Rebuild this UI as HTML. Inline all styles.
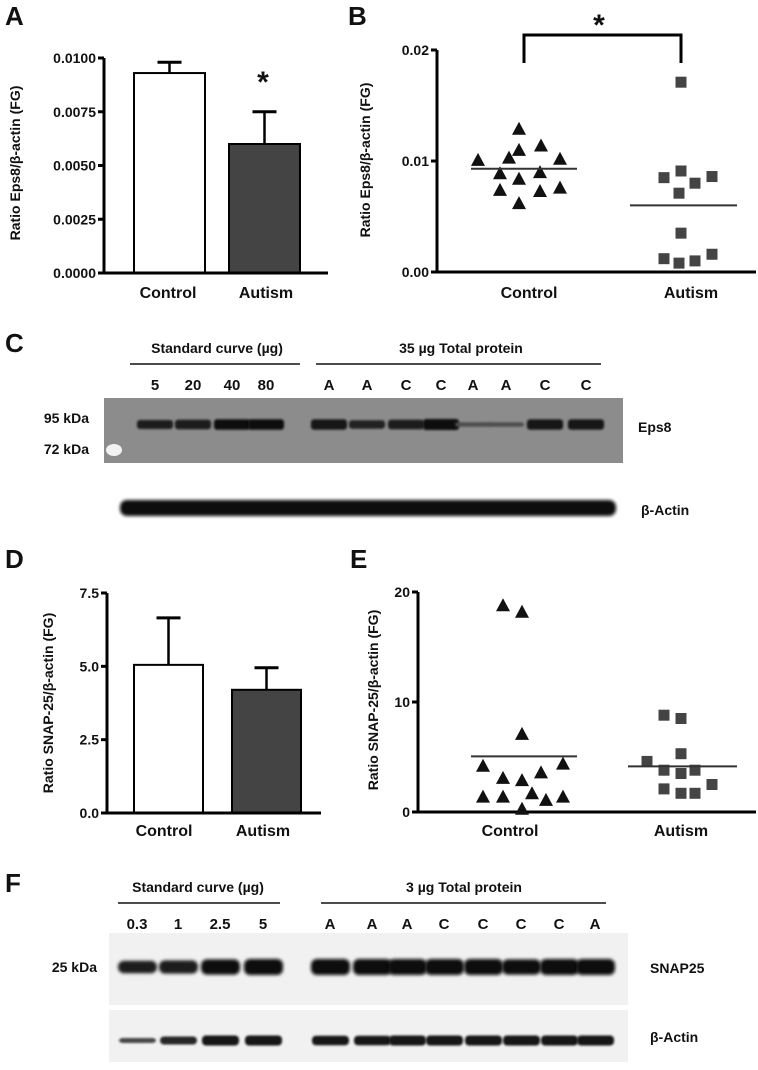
<!DOCTYPE html>
<html><head><meta charset="utf-8"><style>
html,body{margin:0;padding:0;background:#fff}
svg{display:block}
text{font-family:"Liberation Sans",Arial,sans-serif;font-weight:bold;fill:#111}
</style></head><body>
<svg id="fig" width="758" height="1070" viewBox="0 0 758 1070" xmlns="http://www.w3.org/2000/svg">
<defs>
<filter id="blur1" x="-20%" y="-100%" width="140%" height="300%"><feGaussianBlur stdDeviation="1.6"/></filter>
<filter id="blur2" x="-20%" y="-100%" width="140%" height="300%"><feGaussianBlur stdDeviation="1"/></filter>
</defs>
<g id="pA"></g>
<g id="pB"></g>
<g id="pC"></g>
<g id="pD"></g>
<g id="pE"></g>
<g id="pF"></g>
</svg>
<script>
// ---- data ----
const barCategories = ["Control", "Autism"];
const aMeans = [0.0093, 0.0060];
const aErrTop = [0.0098, 0.0075];
const aTicks = ["0.0000", "0.0025", "0.0050", "0.0075", "0.0100"];
const aTickVals = [0, 0.0025, 0.005, 0.0075, 0.01];

const bControl = [0.0129, 0.0114, 0.0110, 0.0101, 0.0103, 0.0102, 0.0089, 0.0090, 0.0084, 0.0076, 0.0074, 0.0073, 0.0062];
const bAutism = [0.0171, 0.0085, 0.0091, 0.0086, 0.0080, 0.0071, 0.0035, 0.0012, 0.0008, 0.0010, 0.0016];
const bMeans = [0.0093, 0.0060];
const bTicks = ["0.00", "0.01", "0.02"];
const bTickVals = [0, 0.01, 0.02];

const dMeans = [5.05, 4.2];
const dErrTop = [6.65, 4.95];
const dTicks = ["0.0", "2.5", "5.0", "7.5"];
const dTickVals = [0, 2.5, 5, 7.5];

const eControl = [18.8, 18.2, 7.1, 4.2, 4.4, 3.1, 2.9, 3.6, 1.4, 1.4, 1.7, 1.1, 1.4, 0.3];
const eAutism = [8.8, 8.5, 5.3, 4.6, 3.8, 3.5, 3.8, 2.1, 1.7, 1.7, 2.5];
const eMeans = [5.06, 4.15];
const eTicks = ["0", "10", "20"];
const eTickVals = [0, 10, 20];

const cLanes = ["5", "20", "40", "80", "A", "A", "C", "C", "A", "A", "C", "C"];
const cEps8 = [0.75, 0.8, 0.95, 0.95, 0.9, 0.7, 0.8, 1, 0.2, 0.2, 0.9, 0.9];
const fLanes = ["0.3", "1", "2.5", "5", "A", "A", "A", "C", "C", "C", "C", "A"];
const fSnap = [0.75, 0.8, 0.95, 1, 1, 1, 1, 1, 1, 0.95, 1, 1];
const fActin = [0.4, 0.7, 0.9, 0.9, 0.85, 0.85, 0.9, 0.9, 0.9, 0.9, 0.9, 0.9];

// jitter offsets (px) used for point spread in dot plots
const bCtrlJit = [0, 22, 0, -41, -10, 41, -19, 21, 0, 41, -19, 21, 0];
const bAutJit = [0, -17, 0, 31, 14, -2, 0, -17, -2, 14, 31];
const eCtrlJit = [-19, 0, 0, -39, 41, -19, 0, 19, -39, -19, 10, 24, 41, 0];
const eAutJit = [-17, 0, 0, -34, -17, 0, 14, -17, 0, 14, 31];

const NS = "http://www.w3.org/2000/svg";
function mk(parent, tag, attrs, txt) {
  const e = document.createElementNS(NS, tag);
  for (const k in attrs) e.setAttribute(k, attrs[k]);
  if (txt !== undefined) e.textContent = txt;
  parent.appendChild(e);
  return e;
}
function lin(d0, d1, r0, r1) { return v => r0 + (v - d0) / (d1 - d0) * (r1 - r0); }

function axes(g, x0, xEnd, yScale, vals, labels, fs, titleX, titleY, title) {
  const yTop = yScale(vals[vals.length - 1]), yBot = yScale(vals[0]);
  let l = mk(g, "line", {x1: x0, y1: yTop, x2: x0, y2: yBot + 1.5, stroke: "#000", "stroke-width": 3});
  
  
  l = mk(g, "line", {x1: x0 - 1.5, y1: yBot, x2: xEnd, y2: yBot, stroke: "#000", "stroke-width": 3});
  
  
  vals.forEach((v, i) => {
    const y = yScale(v);
    const t = mk(g, "line", {x1: x0 - 6, y1: y, x2: x0, y2: y, stroke: "#000", "stroke-width": 3});
    
    
    const tl = mk(g, "text", {x: x0 - 8, y: y + 5, "text-anchor": "end", "font-size": fs}, labels[i]);
    
    
  });
  const tt = mk(g, "text", {x: 0, y: 0, "text-anchor": "middle", "font-size": 14, transform: `translate(${titleX},${titleY}) rotate(-90)`}, title);
  
  
}
function xlabels(g, xs, y) {
  barCategories.forEach((c, i) => {
    const t = mk(g, "text", {x: xs[i], y: y, "text-anchor": "middle", "font-size": 16}, c);
    
    
  });
}
function panelLetter(g, x, y, s) {
  const t = mk(g, "text", {x: x, y: y, "font-size": 26}, s);
  
  
}
function bars(g, ys, means, errs, xs, w, fills) {
  means.forEach((m, i) => {
    const x = xs[i], yb = ys(0), yt = ys(m), ye = ys(errs[i]);
    const e = mk(g, "line", {x1: x + w / 2, y1: yt, x2: x + w / 2, y2: ye, stroke: "#000", "stroke-width": 2.5});
    
    
    const c = mk(g, "line", {x1: x + w / 2 - 12, y1: ye, x2: x + w / 2 + 12, y2: ye, stroke: "#000", "stroke-width": 3});
    
    
    const r = mk(g, "rect", {x: x, y: yt, width: w, height: yb - yt, fill: fills[i], stroke: "#000", "stroke-width": 2});
    
    
  });
}
function tri(g, cx, cy) {
  const p = mk(g, "polygon", {points: `${cx},${cy - 7} ${cx - 7},${cy + 6} ${cx + 7},${cy + 6}`, fill: "#111"});
  
  
}
function sq(g, cx, cy) {
  const r = mk(g, "rect", {x: cx - 5.5, y: cy - 5.5, width: 11, height: 11, fill: "#444"});
  
  
}
function meanLine(g, x1, x2, y) {
  const l = mk(g, "line", {x1: x1, y1: y, x2: x2, y2: y, stroke: "#333", "stroke-width": 2});
  
  
}

// Panel A
(function () {
  const g = document.getElementById("pA");
  panelLetter(g, 5, 25, "A");
  const ys = lin(0, 0.01, 273, 58);
  bars(g, ys, aMeans, aErrTop, [134, 229], 71, ["#fff", "#444"]);
  axes(g, 104, 328, ys, aTickVals, aTicks, 14, 20, 163, "Ratio Eps8/β-actin (FG)");
  xlabels(g, [168, 266], 298);
  const s = mk(g, "text", {x: 263, y: 92, "text-anchor": "middle", "font-size": 30}, "*");
  
  
})();

// Panel B
(function () {
  const g = document.getElementById("pB");
  panelLetter(g, 348, 25, "B");
  const ys = lin(0, 0.02, 272, 50);
  axes(g, 437, 756, ys, bTickVals, bTicks, 14, 370, 160, "Ratio Eps8/β-actin (FG)");
  bControl.forEach((v, i) => tri(g, 519 + bCtrlJit[i], ys(v)));
  bAutism.forEach((v, i) => sq(g, 681 + bAutJit[i], ys(v)));
  meanLine(g, 471, 577, ys(bMeans[0]));
  meanLine(g, 630, 737, ys(bMeans[1]));
  xlabels(g, [529, 691], 298);
  const br = mk(g, "path", {d: "M524,63 V35 H681 V63", fill: "none", stroke: "#000", "stroke-width": 3});
  
  
  const s = mk(g, "text", {x: 599, y: 35, "text-anchor": "middle", "font-size": 30}, "*");
  
  
})();

function blotHeader(g, letter, ly, sc, scX, scU, tp, tpX, tpU, lanes, laneX, hy) {
  panelLetter(g, 5, ly, letter);
  let t = mk(g, "text", {x: scX, y: hy, "text-anchor": "middle", "font-size": 14}, sc);
  
  
  let l = mk(g, "line", {x1: scU[0], y1: hy + 11, x2: scU[1], y2: hy + 11, stroke: "#111", "stroke-width": 1.5});
  
  
  t = mk(g, "text", {x: tpX, y: hy, "text-anchor": "middle", "font-size": 14}, tp);
  
  
  l = mk(g, "line", {x1: tpU[0], y1: hy + 11, x2: tpU[1], y2: hy + 11, stroke: "#111", "stroke-width": 1.5});
  
  
  lanes.forEach((s, i) => {
    const lt = mk(g, "text", {x: laneX[i], y: hy + 37, "text-anchor": "middle", "font-size": 15}, s);
    
    
  });
}

// Panel C
(function () {
  const g = document.getElementById("pC");
  const laneX = [155, 193, 232, 266, 329, 367, 406, 441, 473, 506, 545, 586];
  blotHeader(g, "C", 352, "Standard curve (µg)", 217, [130, 300], "35 µg Total protein", 461, [316, 601], cLanes, laneX, 353);
  const box = mk(g, "rect", {x: 104, y: 398, width: 519, height: 65, fill: "#8c8c8c"});
  
  
  const ld = mk(g, "ellipse", {cx: 114, cy: 450, rx: 8, ry: 6, fill: "#f2f2f2"});
  
  
  cEps8.forEach((v, i) => {
    const c = Math.round(95 - 85 * v);
    const b = mk(g, "rect", {x: laneX[i] - 18, y: 423 - 4 * v, width: 36, height: 3 + 8 * v, rx: 3, fill: `rgb(${c},${c},${c})`, filter: "url(#blur2)"});
    
    
  });
  const act = mk(g, "rect", {x: 120, y: 500, width: 496, height: 16, rx: 7, fill: "#111", filter: "url(#blur1)"});
  
  
  [["95 kDa", 89, 423], ["72 kDa", 89, 454]].forEach(a => {
    const t = mk(g, "text", {x: a[1], y: a[2], "text-anchor": "end", "font-size": 14}, a[0]);
    
    
  });
  let t = mk(g, "text", {x: 638, y: 432, "font-size": 14}, "Eps8");
  
  
  t = mk(g, "text", {x: 641, y: 515, "font-size": 14}, "β-Actin");
  
  
})();

// Panel D
(function () {
  const g = document.getElementById("pD");
  panelLetter(g, 5, 568, "D");
  const ys = lin(0, 7.5, 813, 593);
  bars(g, ys, dMeans, dErrTop, [134, 232], 69, ["#fff", "#444"]);
  axes(g, 107, 321, ys, dTickVals, dTicks, 14, 53, 703, "Ratio SNAP-25/β-actin (FG)");
  xlabels(g, [164, 263], 836);
})();

// Panel E
(function () {
  const g = document.getElementById("pE");
  panelLetter(g, 350, 568, "E");
  const ys = lin(0, 20, 812, 592);
  axes(g, 418, 756, ys, eTickVals, eTicks, 14, 378, 700, "Ratio SNAP-25/β-actin (FG)");
  eControl.forEach((v, i) => tri(g, 522 + eCtrlJit[i], ys(v)));
  eAutism.forEach((v, i) => sq(g, 681 + eAutJit[i], ys(v)));
  meanLine(g, 471, 577, ys(eMeans[0]));
  meanLine(g, 628, 737, ys(eMeans[1]));
  xlabels(g, [510, 681], 836);
})();

// Panel F
(function () {
  const g = document.getElementById("pF");
  const laneX = [137, 178, 220, 263, 330, 372, 407, 444, 483, 521, 559, 595];
  blotHeader(g, "F", 892, "Standard curve (µg)", 198, [118, 280], "3 µg Total protein", 464, [321, 606], fLanes, laneX, 892);
  let box = mk(g, "rect", {x: 109, y: 933, width: 519, height: 72, fill: "#f1f1f1"});
  
  
  box = mk(g, "rect", {x: 109, y: 1010, width: 519, height: 52, fill: "#f1f1f1"});
  
  
  fSnap.forEach((v, i) => {
    const c = Math.round(90 - 80 * v);
    const b = mk(g, "rect", {x: laneX[i] - 19, y: 966 - 7 * v, width: 39, height: 14 * v + 2, rx: 6, fill: `rgb(${c},${c},${c})`, filter: "url(#blur1)"});
    
    
  });
  fActin.forEach((v, i) => {
    const c = Math.round(110 - 100 * v);
    const b = mk(g, "rect", {x: laneX[i] - 18, y: 1040 - 5 * v, width: 37, height: 10 * v + 1, rx: 4, fill: `rgb(${c},${c},${c})`, filter: "url(#blur2)"});
    
    
  });
  let t = mk(g, "text", {x: 97, y: 972, "text-anchor": "end", "font-size": 14}, "25 kDa");
  
  
  t = mk(g, "text", {x: 650, y: 973, "font-size": 14}, "SNAP25");
  
  
  t = mk(g, "text", {x: 650, y: 1042, "font-size": 14}, "β-Actin");
  
  
})();
</script>
</body></html>
